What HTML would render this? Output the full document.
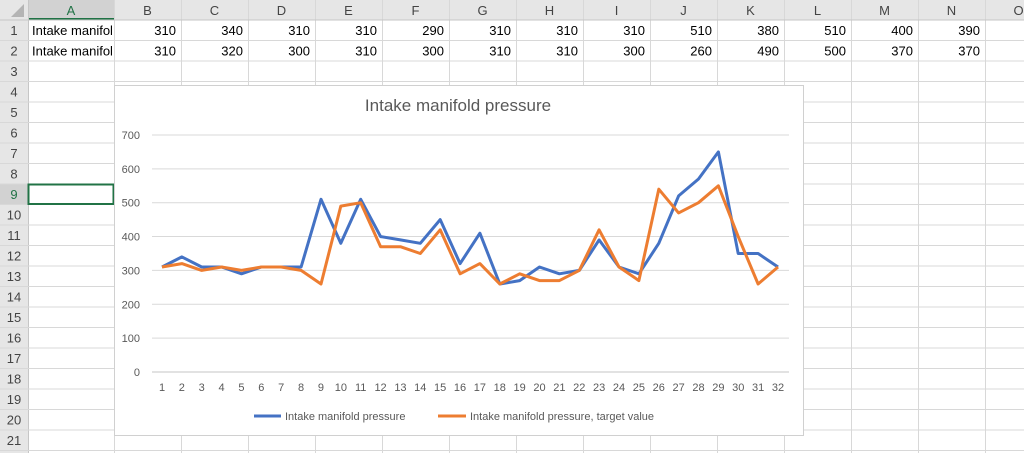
<!DOCTYPE html>
<html><head><meta charset="utf-8"><style>
html,body{margin:0;padding:0;background:#fff;width:1024px;height:453px;overflow:hidden}
svg{display:block;font-family:"Liberation Sans",sans-serif}
</style></head><body>
<svg id="s" width="1024" height="453" xmlns="http://www.w3.org/2000/svg"></svg>
<script>
const s=document.getElementById('s');let h='<defs><clipPath id="ca"><rect x="28" y="20" width="85" height="50"/></clipPath></defs>';
const cols=[28,114,181,248,315,382,449,516,583,650,717,784,851,918,985,1052];
const names=['A','B','C','D','E','F','G','H','I','J','K','L','M','N','O'];
const rowY=n=>20+(n-1)*20.5;
h+=`<rect x="0" y="0" width="1024" height="20" fill="#e6e6e6"/>`;
h+=`<rect x="0" y="0" width="28" height="453" fill="#e6e6e6"/>`;
h+=`<rect x="28" y="0" width="86" height="20" fill="#d2d2d2"/><line x1="28" y1="19" x2="114" y2="19" stroke="#217346" stroke-width="2"/>`;
h+=`<rect x="0" y="${rowY(9)}" width="28" height="20.5" fill="#d2d2d2"/>`;
h+=`<polygon points="24,4 24,17 11,17" fill="#b4b4b4"/>`;
for(let i=1;i<cols.length;i++){h+=`<line x1="${cols[i]+.5}" y1="0" x2="${cols[i]+.5}" y2="453" stroke="#d8d8d8"/>`;}
h+=`<line x1="28.5" y1="0" x2="28.5" y2="453" stroke="#c6c6c6"/>`;
for(let r=1;r<=23;r++){const y=rowY(r);h+=`<line x1="0" y1="${y}" x2="1024" y2="${y}" stroke="#d8d8d8"/>`;}
h+=`<line x1="0" y1="20" x2="1024" y2="20" stroke="#c6c6c6"/>`;
for(let i=0;i<names.length;i++){const c=(cols[i]+cols[i+1])/2;h+=`<text x="${c}" y="15" font-size="13" text-anchor="middle" fill="${i==0?'#217346':'#444'}">${names[i]}</text>`;}
for(let r=1;r<=22;r++){h+=`<text x="14" y="${rowY(r)+15}" font-size="13" text-anchor="middle" fill="${r==9?'#217346':'#444'}">${r}</text>`;}
const b=[310,340,310,310,290,310,310,310,510,380,510,400,390,380,450,320,410,260,270,310,290,300,390,310,290,380,520,570,650,350,350,310];
const o=[310,320,300,310,300,310,310,300,260,490,500,370,370,350,420,290,320,260,290,270,270,300,420,310,270,540,470,500,550,400,260,310];
for(let r=0;r<2;r++){h+=`<text x="32" y="${rowY(r+1)+15}" font-size="13" fill="#000" clip-path="url(#ca)">Intake manifold pressure</text>`;}
const row1=[310,340,310,310,290,310,310,310,510,380,510,400,390];
const row2=[310,320,300,310,300,310,310,300,260,490,500,370,370];
for(let i=0;i<13;i++){const x=cols[i+2]-5;
h+=`<text x="${x}" y="${rowY(1)+15}" font-size="13" text-anchor="end">${row1[i]}</text>`;
h+=`<text x="${x}" y="${rowY(2)+15}" font-size="13" text-anchor="end">${row2[i]}</text>`;}
h+=`<rect x="28.5" y="${rowY(9)+.5}" width="85" height="19.5" fill="none" stroke="#217346" stroke-width="2"/>`;
h+=`<rect x="114.5" y="85.5" width="689" height="350" fill="#fff" stroke="#d0d0d0"/>`;
h+=`<text x="458" y="111" font-size="17" text-anchor="middle" fill="#595959">Intake manifold pressure</text>`;
const Y=v=>372-v*0.3386, X=i=>162+i*19.87;
for(let k=0;k<=7;k++){const y=Y(k*100);h+=`<line x1="152" y1="${y}" x2="789" y2="${y}" stroke="#d9d9d9" stroke-width="${k==0?1.5:1}"/>`;
h+=`<text x="140" y="${y+4}" font-size="11" text-anchor="end" fill="#595959">${k*100}</text>`;}
for(let i=0;i<32;i++)h+=`<text x="${X(i)}" y="391" font-size="11" text-anchor="middle" fill="#595959">${i+1}</text>`;
const pl=(d,c)=>`<polyline points="${d.map((v,i)=>X(i).toFixed(1)+','+Y(v).toFixed(1)).join(' ')}" fill="none" stroke="${c}" stroke-width="3" stroke-linejoin="round"/>`;
h+=pl(b,'#4472c4')+pl(o,'#ed7d31');
h+=`<line x1="254" y1="416" x2="281" y2="416" stroke="#4472c4" stroke-width="3"/><text x="285" y="420" font-size="11" fill="#595959">Intake manifold pressure</text>`;
h+=`<line x1="438" y1="416" x2="466" y2="416" stroke="#ed7d31" stroke-width="3"/><text x="470" y="420" font-size="11" fill="#595959">Intake manifold pressure, target value</text>`;
s.innerHTML=h;
</script>
</body></html>
